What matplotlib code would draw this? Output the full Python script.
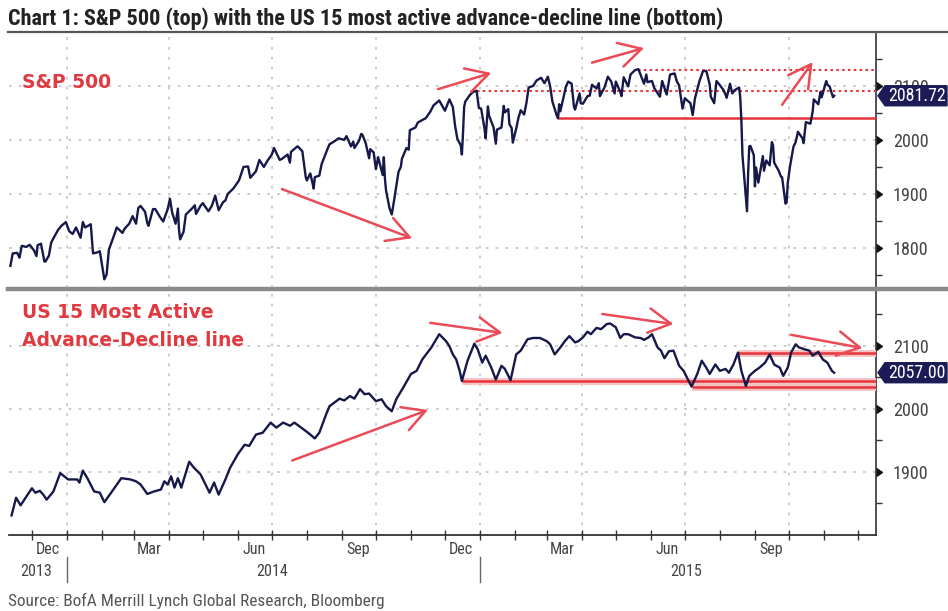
import matplotlib
matplotlib.use("Agg")
import matplotlib.pyplot as plt
import matplotlib.dates as mdates
import matplotlib.transforms as mtransforms
import matplotlib.patheffects as pe
from matplotlib.patches import Polygon
from matplotlib.lines import Line2D
from matplotlib.ticker import NullFormatter, FixedLocator
from matplotlib import font_manager
import pandas as pd

# ---------------------------------------------------------------- data
sp_dates = [
    "2013-11-12", "2013-11-14", "2013-11-18", "2013-11-20", "2013-11-22", "2013-11-26",
    "2013-11-29", "2013-12-03", "2013-12-05", "2013-12-06", "2013-12-09", "2013-12-12",
    "2013-12-13", "2013-12-16", "2013-12-18", "2013-12-20", "2013-12-24", "2013-12-27",
    "2013-12-31", "2014-01-03", "2014-01-06", "2014-01-09", "2014-01-13", "2014-01-15",
    "2014-01-17", "2014-01-22", "2014-01-24", "2014-01-28", "2014-01-30", "2014-02-03",
    "2014-02-05", "2014-02-07", "2014-02-11", "2014-02-14", "2014-02-19", "2014-02-21",
    "2014-02-25", "2014-02-28", "2014-03-03", "2014-03-05", "2014-03-07", "2014-03-11",
    "2014-03-13", "2014-03-14", "2014-03-18", "2014-03-20", "2014-03-24", "2014-03-27",
    "2014-03-31", "2014-04-02", "2014-04-04", "2014-04-07", "2014-04-09", "2014-04-10",
    "2014-04-11", "2014-04-14", "2014-04-16", "2014-04-21", "2014-04-24", "2014-04-25",
    "2014-04-29", "2014-05-01", "2014-05-06", "2014-05-09", "2014-05-12", "2014-05-15",
    "2014-05-19", "2014-05-21", "2014-05-23", "2014-05-28", "2014-06-02", "2014-06-06",
    "2014-06-10", "2014-06-12", "2014-06-17", "2014-06-20", "2014-06-24", "2014-06-27",
    "2014-07-01", "2014-07-03", "2014-07-08", "2014-07-10", "2014-07-15", "2014-07-17",
    "2014-07-18", "2014-07-23", "2014-07-24", "2014-07-28", "2014-07-31", "2014-08-01",
    "2014-08-04", "2014-08-06", "2014-08-07", "2014-08-08", "2014-08-12", "2014-08-14",
    "2014-08-19", "2014-08-21", "2014-08-25", "2014-08-29", "2014-09-03", "2014-09-05",
    "2014-09-09", "2014-09-11", "2014-09-12", "2014-09-16", "2014-09-18", "2014-09-19",
    "2014-09-22", "2014-09-25", "2014-09-26", "2014-09-29", "2014-10-01", "2014-10-03",
    "2014-10-07", "2014-10-08", "2014-10-09", "2014-10-10", "2014-10-13", "2014-10-15",
    "2014-10-17", "2014-10-21", "2014-10-23", "2014-10-24", "2014-10-28", "2014-10-30",
    "2014-10-31", "2014-11-05", "2014-11-07", "2014-11-12", "2014-11-14", "2014-11-18",
    "2014-11-21", "2014-11-26", "2014-12-01", "2014-12-05", "2014-12-08", "2014-12-10",
    "2014-12-12", "2014-12-15", "2014-12-16", "2014-12-17", "2014-12-18", "2014-12-19",
    "2014-12-23", "2014-12-26", "2014-12-29", "2014-12-31", "2015-01-02", "2015-01-05",
    "2015-01-06", "2015-01-08", "2015-01-09", "2015-01-13", "2015-01-15", "2015-01-16",
    "2015-01-20", "2015-01-22", "2015-01-23", "2015-01-26", "2015-01-27", "2015-01-29",
    "2015-01-30", "2015-02-02", "2015-02-04", "2015-02-06", "2015-02-09", "2015-02-11",
    "2015-02-13", "2015-02-17", "2015-02-20", "2015-02-24", "2015-02-27", "2015-03-02",
    "2015-03-04", "2015-03-06", "2015-03-10", "2015-03-11", "2015-03-12", "2015-03-13",
    "2015-03-16", "2015-03-18", "2015-03-20", "2015-03-23", "2015-03-25", "2015-03-26",
    "2015-03-30", "2015-03-31", "2015-04-02", "2015-04-06", "2015-04-08", "2015-04-10",
    "2015-04-14", "2015-04-16", "2015-04-17", "2015-04-21", "2015-04-24", "2015-04-27",
    "2015-04-30", "2015-05-01", "2015-05-05", "2015-05-06", "2015-05-08", "2015-05-12",
    "2015-05-14", "2015-05-18", "2015-05-21", "2015-05-26", "2015-05-28", "2015-05-29",
    "2015-06-02", "2015-06-04", "2015-06-09", "2015-06-11", "2015-06-15", "2015-06-18",
    "2015-06-22", "2015-06-24", "2015-06-26", "2015-06-29", "2015-07-01", "2015-07-06",
    "2015-07-08", "2015-07-10", "2015-07-14", "2015-07-17", "2015-07-20", "2015-07-23",
    "2015-07-24", "2015-07-27", "2015-07-29", "2015-07-31", "2015-08-04", "2015-08-06",
    "2015-08-07", "2015-08-10", "2015-08-12", "2015-08-14", "2015-08-18", "2015-08-19",
    "2015-08-20", "2015-08-21", "2015-08-24", "2015-08-25", "2015-08-26", "2015-08-27",
    "2015-08-28", "2015-08-31", "2015-09-01", "2015-09-02", "2015-09-04", "2015-09-08",
    "2015-09-09", "2015-09-11", "2015-09-14", "2015-09-16", "2015-09-17", "2015-09-18",
    "2015-09-22", "2015-09-24", "2015-09-25", "2015-09-28", "2015-09-29", "2015-09-30",
    "2015-10-02", "2015-10-05", "2015-10-07", "2015-10-09", "2015-10-13", "2015-10-14",
    "2015-10-16", "2015-10-20", "2015-10-22", "2015-10-23", "2015-10-27", "2015-10-29",
    "2015-10-30", "2015-11-03", "2015-11-04", "2015-11-06", "2015-11-09", "2015-11-10",
]
sp_close = [
    1767, 1790, 1791, 1782, 1804, 1802,
    1806, 1795, 1785, 1805, 1808, 1775,
    1775, 1786, 1810, 1818, 1833, 1841,
    1848, 1831, 1826, 1838, 1819, 1848,
    1838, 1844, 1790, 1792, 1794, 1742,
    1751, 1797, 1820, 1838, 1828, 1836,
    1845, 1859, 1845, 1874, 1878, 1867,
    1846, 1841, 1872, 1872, 1858, 1849,
    1872, 1891, 1865, 1845, 1873, 1833,
    1816, 1830, 1862, 1872, 1879, 1863,
    1878, 1883, 1868, 1878, 1897, 1870,
    1885, 1888, 1900, 1910, 1925, 1950,
    1951, 1930, 1942, 1963, 1950, 1961,
    1973, 1985, 1963, 1965, 1973, 1958,
    1978, 1987, 1988, 1979, 1931, 1925,
    1938, 1920, 1910, 1931, 1934, 1955,
    1982, 1992, 1997, 2003, 2000, 2007,
    1988, 1997, 1985, 1998, 2011, 2010,
    1994, 1966, 1983, 1977, 1946, 1968,
    1935, 1968, 1928, 1906, 1874, 1862,
    1887, 1941, 1950, 1965, 1985, 1982,
    2018, 2023, 2032, 2038, 2040, 2052,
    2064, 2073, 2054, 2075, 2061, 2026,
    2002, 1990, 1973, 2013, 2061, 2071,
    2083, 2089, 2091, 2059, 2058, 2021,
    2003, 2062, 2045, 2023, 1993, 2019,
    2023, 2063, 2051, 2057, 2029, 2022,
    1995, 2021, 2041, 2055, 2047, 2068,
    2097, 2100, 2110, 2115, 2105, 2117,
    2099, 2071, 2044, 2040, 2066, 2053,
    2081, 2099, 2108, 2104, 2062, 2056,
    2086, 2068, 2067, 2081, 2082, 2102,
    2095, 2105, 2081, 2097, 2117, 2108,
    2086, 2108, 2089, 2081, 2116, 2099,
    2121, 2129, 2131, 2104, 2121, 2107,
    2109, 2096, 2080, 2109, 2084, 2121,
    2123, 2108, 2101, 2058, 2077, 2068,
    2046, 2077, 2109, 2127, 2128, 2103,
    2080, 2068, 2109, 2104, 2093, 2084,
    2078, 2104, 2086, 2092, 2097, 2079,
    2036, 1971, 1893, 1868, 1940, 1988,
    1989, 1972, 1914, 1949, 1921, 1970,
    1943, 1962, 1953, 1996, 1990, 1958,
    1943, 1932, 1931, 1882, 1884, 1920,
    1951, 1987, 1996, 2015, 2003, 1994,
    2033, 2030, 2052, 2075, 2066, 2089,
    2079, 2109, 2102, 2099, 2079, 2081.72,
]

ad_dates = [
    "2013-11-13", "2013-11-17", "2013-11-21", "2013-11-25", "2013-12-01", "2013-12-04",
    "2013-12-08", "2013-12-11", "2013-12-14", "2013-12-20", "2013-12-26", "2014-01-02",
    "2014-01-10", "2014-01-12", "2014-01-15", "2014-01-19", "2014-01-25", "2014-01-30",
    "2014-02-03", "2014-02-09", "2014-02-18", "2014-02-26", "2014-03-03", "2014-03-07",
    "2014-03-13", "2014-03-19", "2014-03-25", "2014-03-28", "2014-03-31", "2014-04-03",
    "2014-04-06", "2014-04-09", "2014-04-12", "2014-04-19", "2014-04-23", "2014-04-29",
    "2014-05-07", "2014-05-11", "2014-05-15", "2014-05-21", "2014-05-25", "2014-06-01",
    "2014-06-07", "2014-06-11", "2014-06-17", "2014-06-23", "2014-06-30", "2014-07-05",
    "2014-07-11", "2014-07-17", "2014-07-21", "2014-07-27", "2014-08-02", "2014-08-08",
    "2014-08-12", "2014-08-18", "2014-08-21", "2014-08-30", "2014-09-03", "2014-09-08",
    "2014-09-12", "2014-09-17", "2014-09-21", "2014-09-25", "2014-10-01", "2014-10-06",
    "2014-10-10", "2014-10-15", "2014-10-19", "2014-10-25", "2014-11-01", "2014-11-06",
    "2014-11-11", "2014-11-19", "2014-11-26", "2014-12-02", "2014-12-05", "2014-12-08",
    "2014-12-11", "2014-12-14", "2014-12-16", "2014-12-21", "2014-12-27", "2014-12-30",
    "2015-01-03", "2015-01-06", "2015-01-11", "2015-01-15", "2015-01-20", "2015-01-23",
    "2015-01-28", "2015-02-02", "2015-02-06", "2015-02-12", "2015-02-17", "2015-02-23",
    "2015-03-01", "2015-03-04", "2015-03-08", "2015-03-13", "2015-03-17", "2015-03-21",
    "2015-03-26", "2015-03-29", "2015-04-02", "2015-04-06", "2015-04-09", "2015-04-14",
    "2015-04-18", "2015-04-23", "2015-04-26", "2015-05-01", "2015-05-05", "2015-05-08",
    "2015-05-12", "2015-05-18", "2015-05-23", "2015-05-26", "2015-05-30", "2015-06-02",
    "2015-06-07", "2015-06-10", "2015-06-13", "2015-06-17", "2015-06-21", "2015-06-26",
    "2015-06-30", "2015-07-03", "2015-07-07", "2015-07-12", "2015-07-16", "2015-07-20",
    "2015-07-23", "2015-07-28", "2015-08-01", "2015-08-06", "2015-08-09", "2015-08-13",
    "2015-08-17", "2015-08-20", "2015-08-24", "2015-08-27", "2015-09-01", "2015-09-05",
    "2015-09-10", "2015-09-14", "2015-09-18", "2015-09-23", "2015-09-26", "2015-09-30",
    "2015-10-03", "2015-10-07", "2015-10-10", "2015-10-15", "2015-10-19", "2015-10-22",
    "2015-10-27", "2015-10-31", "2015-11-04", "2015-11-08", "2015-11-10",
]
ad_values = [
    1831, 1859, 1847, 1858, 1874, 1867,
    1870, 1864, 1856, 1869, 1898, 1888,
    1888, 1883, 1902, 1890, 1869, 1867,
    1852, 1867, 1890, 1888, 1885, 1880,
    1865, 1869, 1872, 1885, 1880, 1893,
    1875, 1890, 1875, 1916, 1907, 1896,
    1867, 1883, 1864, 1888, 1906, 1928,
    1943, 1941, 1959, 1962, 1978, 1970,
    1978, 1973, 1978, 1970, 1962, 1953,
    1962, 1991, 2004, 2016, 2013, 2020,
    2016, 2031, 2023, 2024, 2012, 2015,
    2004, 1996, 2015, 2033, 2055, 2060,
    2078, 2097, 2118, 2107, 2099, 2086,
    2078, 2060, 2044, 2076, 2103, 2094,
    2073, 2084, 2065, 2046, 2068, 2063,
    2045, 2086, 2092, 2110, 2112, 2112,
    2107, 2102, 2086, 2097, 2107, 2115,
    2105, 2107, 2113, 2122, 2118, 2128,
    2126, 2134, 2135, 2129, 2112, 2118,
    2118, 2113, 2112, 2109, 2113, 2118,
    2097, 2092, 2080, 2091, 2092, 2068,
    2060, 2049, 2035, 2055, 2076, 2065,
    2055, 2070, 2060, 2063, 2057, 2070,
    2089, 2060, 2036, 2052, 2060, 2065,
    2073, 2086, 2070, 2065, 2052, 2065,
    2089, 2102, 2097, 2094, 2092, 2084,
    2090, 2078, 2073, 2060, 2057,
]

# support / resistance levels: (start date, level, style)
sp_levels = [("2015-03-11", 2040, "solid"), ("2014-12-29", 2090, "dotted"),
             ("2015-05-21", 2130, "dotted")]
ad_levels = [("2014-12-16", 2044), ("2015-07-07", 2035), ("2015-08-17", 2089)]

# hand-drawn trend arrows: (start date, start value, end date, end value)
sp_arrows = [("2014-11-25", 2094, "2015-01-11", 2124),
             ("2015-04-10", 2143, "2015-05-26", 2170),
             ("2015-09-25", 2065, "2015-10-22", 2144),
             ("2014-07-10", 1909, "2014-11-02", 1818)]
ad_arrows = [("2014-07-19", 1918, "2014-11-16", 1998),
             ("2014-11-18", 2136, "2015-01-21", 2120),
             ("2015-04-19", 2150, "2015-06-21", 2134),
             ("2015-10-03", 2117, "2015-12-05", 2096)]

sp_ticks = [1800, 1900, 2000, 2100]
ad_ticks = [1900, 2000, 2100]
sp_last_label = "2081.72"
ad_last_label = "2057.00"

month_label_dates = ["2013-12-15", "2014-03-15", "2014-06-15", "2014-09-15",
                     "2014-12-15", "2015-03-15", "2015-06-15", "2015-09-15"]
year_labels = [("2013-12-05", "2013"), ("2014-07-01", "2014"), ("2015-07-02", "2015")]
year_breaks = ["2014-01-01", "2015-01-01"]

title = "Chart 1: S&P 500 (top) with the US 15 most active advance-decline line (bottom)"
source = "Source: BofA Merrill Lynch Global Research, Bloomberg"

# ---------------------------------------------------------------- fonts
CONDENSED = {"condensed", "semi-condensed", "extra-condensed", "ultra-condensed"}


def pick_narrow():
    fonts = font_manager.fontManager.ttflist
    names = {f.name for f in fonts}
    for pref in ("Liberation Sans Narrow", "Roboto Condensed", "Open Sans Condensed",
                 "DejaVu Sans Condensed", "Noto Sans Condensed"):
        if pref in names:
            return pref, "normal"
    for f in fonts:
        st = f.stretch
        if (isinstance(st, str) and st in CONDENSED) or (isinstance(st, int) and st < 500):
            return f.name, st
    for f in fonts:
        if "Narrow" in f.name or "Condensed" in f.name:
            return f.name, "normal"
    for pref in ("Liberation Sans", "Roboto", "DejaVu Sans"):
        if pref in names:
            return pref, "normal"
    return "DejaVu Sans", "normal"


NARROW, STRETCH = pick_narrow()
NFONT = dict(family=NARROW, fontstretch=STRETCH)

NAVY = "#17184a"
RED_TXT = "#e0393f"
RED_LINE = "#e5343a"
RED_ARROW = "#ea4b56"
GRID = "#c8c8c8"
AXIS = "#333333"
LABEL = "#444444"

W, H = 948, 611
fig = plt.figure(figsize=(W / 100, H / 100), dpi=100)
fig.patch.set_facecolor("white")
renderer = fig.canvas.get_renderer()


def fit_size(text, target_px, start=14.0, cap=None, **kw):
    """Font size (pt) at which `text` spans about target_px pixels."""
    t = fig.text(0, 0, text, fontsize=start, **kw)
    w = t.get_window_extent(renderer).width
    t.remove()
    size = start * target_px / w
    return min(size, cap) if cap else size


TITLE_SIZE = fit_size(title, 767, fontweight="bold", cap=16, **NFONT)
SOURCE_SIZE = fit_size(source, 377, cap=12.5, **NFONT)
YTICK_SIZE = fit_size("2000", 36, cap=13.5, **NFONT)
XTICK_SIZE = fit_size("Sep", 24, cap=13, **NFONT)
TAG_SIZE = fit_size("2081.72", 58, cap=13.5, **NFONT)

x_lo = pd.Timestamp("2013-11-11")
x_hi = pd.Timestamp("2015-12-17")


def frac_box(left, top, right, bottom):
    return [left / W, 1 - bottom / H, (right - left) / W, (bottom - top) / H]


ax1 = fig.add_axes(frac_box(9.3, 34, 876, 288))
ax2 = fig.add_axes(frac_box(9.3, 290, 876, 535))

sp_x = pd.to_datetime(sp_dates)
ad_x = pd.to_datetime(ad_dates)

quarters = pd.date_range("2014-01-01", "2015-12-01", freq="QS")


def style_axis(ax, ylim, ticks, minor):
    ax.set_xlim(x_lo, x_hi)
    ax.set_ylim(*ylim)
    ax.set_facecolor("none")
    for s in ("left", "top"):
        ax.spines[s].set_visible(False)
    ax.spines["right"].set_color(AXIS)
    ax.spines["right"].set_linewidth(1.2)
    ax.yaxis.tick_right()
    ax.set_yticks(ticks)
    ax.set_yticks(minor, minor=True)
    ax.tick_params(axis="y", which="major", length=0, pad=12, labelsize=YTICK_SIZE,
                   labelcolor=LABEL)
    ax.tick_params(axis="y", which="minor", length=4, width=1, color=AXIS,
                   direction="out")
    for lab in ax.get_yticklabels():
        lab.set_family(NARROW)
        lab.set_fontstretch(STRETCH)
    ax.grid(axis="y", which="major", color=GRID, linestyle=(0, (1.5, 4)), lw=1.3)
    for q in quarters:
        ax.axvline(q, color=GRID, linestyle=(0, (1.5, 4)), lw=1.3, zorder=0)
    # caret-shaped major ticks on the right axis
    ax.plot([1] * len(ticks), ticks, linestyle="none", marker=9, markersize=6,
            color="#111111", transform=ax.get_yaxis_transform(), clip_on=False,
            zorder=6)


style_axis(ax1, (1726, 2196), sp_ticks, [1750, 1850, 1950, 2050, 2150])
style_axis(ax2, (1800, 2188), ad_ticks, [1850, 1950, 2050, 2150])

ax1.spines["bottom"].set_visible(False)
ax1.tick_params(axis="x", which="both", length=0, labelbottom=False)
ax2.spines["bottom"].set_color(AXIS)
ax2.spines["bottom"].set_linewidth(1.3)

# month ticks and quarter-month labels
ax2.xaxis.set_major_locator(mdates.MonthLocator())
ax2.xaxis.set_major_formatter(NullFormatter())
ax2.xaxis.set_minor_locator(FixedLocator(mdates.date2num(pd.to_datetime(month_label_dates))))
ax2.xaxis.set_minor_formatter(mdates.DateFormatter("%b"))
ax2.tick_params(axis="x", which="major", length=7, width=1, direction="inout",
                color=AXIS)
ax2.tick_params(axis="x", which="minor", length=0, pad=5, labelsize=XTICK_SIZE,
                labelcolor=LABEL)
for lab in ax2.get_xticklabels(minor=True):
    lab.set_family(NARROW)
    lab.set_fontstretch(STRETCH)

# year row with separators
xt = ax2.get_xaxis_transform()
for yr_date, yr in year_labels:
    ax2.text(pd.Timestamp(yr_date), -0.147, yr, transform=xt, ha="center",
             va="center", fontsize=XTICK_SIZE, color=LABEL, **NFONT)
for sep in year_breaks:
    ax2.add_line(Line2D([pd.Timestamp(sep)] * 2, [-0.09, -0.19], transform=xt,
                        color="#666666", lw=1, clip_on=False))

# series
ax1.plot(sp_x, sp_close, color=NAVY, lw=1.7, zorder=4, solid_joinstyle="round")
ax2.plot(ad_x, ad_values, color=NAVY, lw=1.7, zorder=4, solid_joinstyle="round")

# levels
for start, level, style in sp_levels:
    ls = "-" if style == "solid" else (0, (1.2, 1.6))
    lw = 1.8 if style == "solid" else 1.5
    ax1.plot([pd.Timestamp(start), x_hi], [level, level], color=RED_LINE, lw=lw,
             linestyle=ls, zorder=3, solid_capstyle="butt")

halo = [pe.Stroke(linewidth=5, foreground="#f6c3c3"), pe.Normal()]
ax2.fill_between([pd.Timestamp(ad_levels[1][0]), x_hi], ad_levels[1][1],
                 ad_levels[0][1], color="#f9d6d6", lw=0, zorder=2)
for start, level in ad_levels:
    ax2.plot([pd.Timestamp(start), x_hi], [level, level], color=RED_LINE, lw=1.8,
             zorder=3, path_effects=halo, solid_capstyle="butt")

# arrows
arrow_kw = dict(arrowstyle="->,head_length=1.0,head_width=0.55", color=RED_ARROW,
                lw=1.8, mutation_scale=16, shrinkA=0, shrinkB=0)
for ax, arrows in ((ax1, sp_arrows), (ax2, ad_arrows)):
    for d0, v0, d1, v1 in arrows:
        ax.annotate("", xy=(pd.Timestamp(d1), v1), xytext=(pd.Timestamp(d0), v0),
                    arrowprops=arrow_kw, annotation_clip=False, zorder=5)

# panel captions
cap_kw = dict(color=RED_TXT, fontsize=13.5, fontweight="bold", family="DejaVu Sans",
              va="center")
ax1.text(0.0145, 0.81, "S&P 500", transform=ax1.transAxes, **cap_kw)
ax2.text(0.0145, 1 - 22 / 245, "US 15 Most Active", transform=ax2.transAxes, **cap_kw)
ax2.text(0.0145, 1 - 50 / 245, "Advance-Decline line", transform=ax2.transAxes, **cap_kw)

# last-value tags on the right axis
ident = mtransforms.IdentityTransform()


def value_tag(ax, value, text):
    px, py = ax.get_yaxis_transform().transform((1, value))
    px += 2
    verts = [(px, py), (px + 7, py + 10), (px + 69, py + 10), (px + 69, py - 10),
             (px + 7, py - 10)]
    fig.patches.append(Polygon(verts, closed=True, transform=ident, facecolor="#1b1b55",
                               edgecolor="#1b1b55", lw=1, zorder=10))
    fig.text(px + 38.5, py, text, transform=ident, ha="center", va="center",
             color="white", fontsize=TAG_SIZE, zorder=11, **NFONT)


value_tag(ax1, sp_close[-1], sp_last_label)
value_tag(ax2, ad_values[-1], ad_last_label)

# title, rules, source
fig.text(8 / W, 1 - 18.5 / H, title, fontsize=TITLE_SIZE, fontweight="bold",
         color="#222222", va="center", **NFONT)
fig.add_artist(Line2D([8 / W, 1.0], [1 - 32 / H] * 2, color="#555555", lw=1.6))
fig.add_artist(Line2D([8 / W, 1.0], [1 - 288.5 / H] * 2, color="#8a8a8a", lw=3.2))
fig.text(8 / W, 1 - 601 / H, source, fontsize=SOURCE_SIZE, color="#555555",
         va="center", **NFONT)

fig.savefig("out.png", dpi=100, facecolor="white")
